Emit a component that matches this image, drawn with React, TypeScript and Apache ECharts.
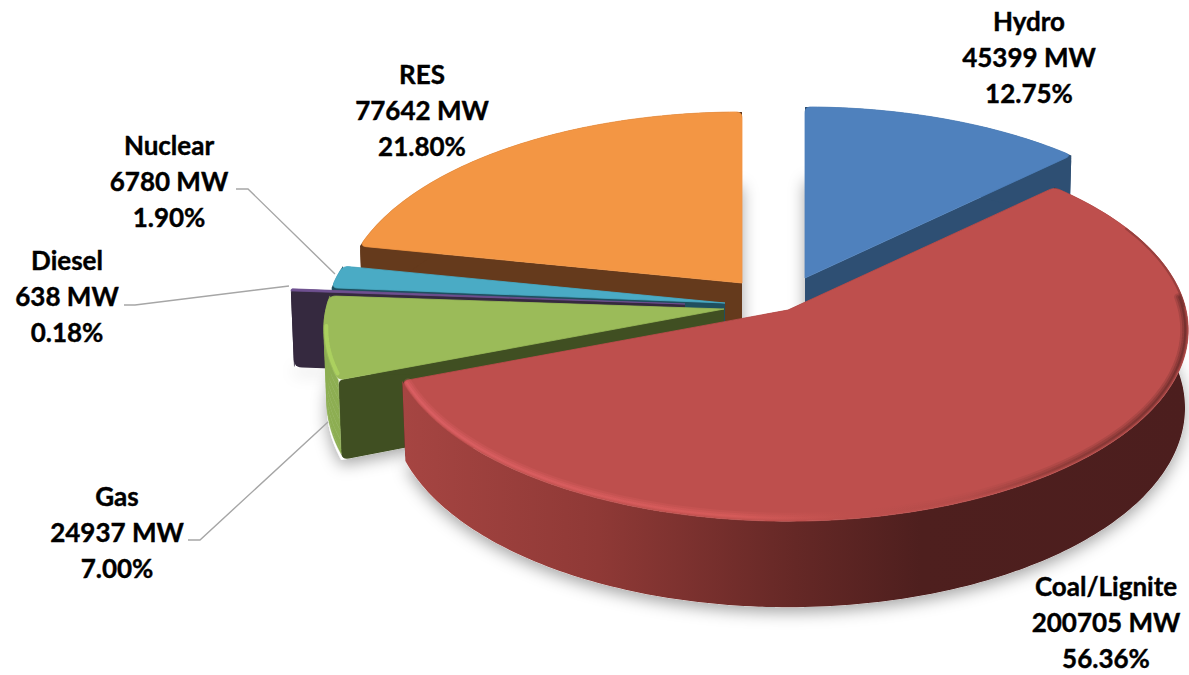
import React, { useEffect, useRef } from "react";
import * as echarts from "echarts";

// ---- data ----
const names = ["Hydro", "Coal/Lignite", "Gas", "Diesel", "Nuclear", "RES"];
const megawatts = [45399, 200705, 24937, 638, 6780, 77642];
const percents = ["12.75", "56.36", "7.00", "0.18", "1.90", "21.80"];

// ---- styles ----
const topColors = ["#4F81BD", "#BE4F4D", "#9BBB59", "#6F5090", "#4AABC5", "#F39644"];
const faceColors = ["#2E4F73", "#4C1E1E", "#404F22", "#35293F", "#1F4F5F", "#653A1C"];

// ---- layout ----
const apexes: number[][] = [[805, 278], [788, 310], [724, 309], [685, 304], [725, 303], [742, 283]];
const labelCentres: number[][] = [[1029, 57], [1106, 622], [117, 532], [67, 296], [169, 181], [422, 110]];
const leaders: number[][][] = [
  [[188, 540], [200, 540], [328, 422]],
  [[124, 305], [135, 305], [289, 286]],
  [[236, 189], [248, 189], [335, 274]],
];
const paintOrder = [0, 5, 4, 3, 2, 1];
const RX = 398, RY = 189, K = 0.105, H = 77, NARROW = 0.008;

const total = megawatts.reduce((a, b) => a + b, 0);
const startAngles: number[] = [];
megawatts.reduce((acc, v, i) => {
  startAngles[i] = acc;
  return acc + (v / total) * Math.PI * 2;
}, 0);
const endAngle = (i: number) => startAngles[i] + (megawatts[i] / total) * Math.PI * 2;

type Pt = number[];
function project(a: Pt, t: number, z = 0, inset = 0): Pt {
  const s = 1 / (1 + K * Math.cos(t));
  const n = 1 - NARROW * (z / H);
  return [
    a[0] + (RX - inset) * Math.sin(t) * s * n,
    a[1] - (RY - inset) * Math.cos(t) * s + z * s,
  ];
}
function rimPoints(a: Pt, t0: number, t1: number, z = 0, inset = 0): Pt[] {
  const steps = Math.max(6, Math.ceil(((t1 - t0) * 180) / Math.PI));
  const out: Pt[] = [];
  for (let i = 0; i <= steps; i++) out.push(project(a, t0 + ((t1 - t0) * i) / steps, z, inset));
  return out;
}
function roundCorner(pts: Pt[], i: number, r: number): Pt[] {
  const n = pts.length;
  const walk = (dir: number) => {
    let d = 0, j = i;
    for (let c = 0; c < n; c++) {
      const k = (j + dir + n) % n;
      const seg = Math.hypot(pts[k][0] - pts[j][0], pts[k][1] - pts[j][1]);
      if (d + seg >= r) {
        const f = (r - d) / (seg || 1);
        return { p: [pts[j][0] + (pts[k][0] - pts[j][0]) * f, pts[j][1] + (pts[k][1] - pts[j][1]) * f], k };
      }
      d += seg;
      j = k;
    }
    return { p: pts[i], k: (i + dir + n) % n };
  };
  const b = walk(-1), f = walk(1);
  const curve: Pt[] = [];
  for (let q = 0; q <= 6; q++) {
    const u = q / 6, v = 1 - u;
    curve.push([
      v * v * b.p[0] + 2 * u * v * pts[i][0] + u * u * f.p[0],
      v * v * b.p[1] + 2 * u * v * pts[i][1] + u * u * f.p[1],
    ]);
  }
  return [...pts.slice(0, b.k + 1), ...curve, ...(f.k > i ? pts.slice(f.k) : [])];
}
const grad = (stops: [number, string][]) =>
  new echarts.graphic.LinearGradient(0, 0, 1, 0, stops.map(([offset, color]) => ({ offset, color })));

const wallFills: any[] = [
  faceColors[0],
  grad([[0, "#A64542"], [0.25, "#8F3936"], [0.5, "#652826"], [0.66, "#4E1F1E"], [1, "#4C1E1E"]]),
  "#8DAE52",
  faceColors[3],
  faceColors[4],
  faceColors[5],
];
const coalRim = grad([[0, "#E4646A"], [0.42, "#DE5F5E"], [0.56, "#BF504D"], [0.72, "#B04A48"], [0.84, "#7E3431"], [1, "#5A2423"]]);

function polygon(points: Pt[], fill: any, extra: any = {}) {
  return { type: "polygon", silent: true, shape: { points }, style: { fill, ...extra } };
}
function polyline(points: Pt[], stroke: any, lineWidth: number, opacity = 1) {
  return { type: "polyline", silent: true, shape: { points }, style: { fill: "none", stroke, lineWidth, opacity, lineCap: "round" } };
}

function renderShadow(_p: any, api: any) {
  const i = api.value(0);
  const a = apexes[i];
  const t0 = startAngles[i], t1 = endAngle(i);
  const pts = [[a[0], a[1] + H], ...rimPoints(a, t0, t1, H)];
  return polygon(pts, "#ffffff", {
    shadowBlur: 16,
    shadowColor: "rgba(0,0,0,0.36)",
    shadowOffsetX: 0,
    shadowOffsetY: 5,
  });
}

function renderSlice(_p: any, api: any) {
  const i = api.value(0);
  const a = apexes[i];
  const t0 = startAngles[i], t1 = endAngle(i);
  const top = rimPoints(a, t0, t1);
  const rimLen = Math.hypot(top[0][0] - top[top.length - 1][0], top[0][1] - top[top.length - 1][1]);
  const r = Math.min(6, rimLen / 3);
  const children: any[] = [];
  const face = (t: number) => {
    let pts: Pt[] = [a, project(a, t), project(a, t, H), [a[0], a[1] + H]];
    pts = roundCorner(pts, 2, 8);
    pts = roundCorner(pts, 1, Math.max(r, 3));
    return polygon(pts, faceColors[i]);
  };
  children.push(face(t0), face(t1));
  if (i === 2) {
    for (let b = 0; b < 8; b++) {
      const lo = rimPoints(a, t0, t1, (H * b) / 8);
      const hi = rimPoints(a, t0, t1, (H * (b + 1)) / 8 - (b === 7 ? 6 : 0));
      children.push(polygon([...lo, ...hi.slice().reverse()], wallFills[i], { stroke: wallFills[i], lineWidth: 0.5 }));
    }
  } else {
    children.push(polygon([...top, ...rimPoints(a, t0, t1, H).reverse()], wallFills[i]));
  }
  let topPoly: Pt[] = [a, ...top];
  topPoly = roundCorner(topPoly, topPoly.length - 1, r);
  topPoly = roundCorner(topPoly, 1, r);
  children.push(polygon(topPoly, topColors[i], { stroke: topColors[i], lineWidth: 0.8 }));
  if (i === 1) {
    children.push(polyline(rimPoints(a, t0 + 0.3, t0 + 0.75, 0, 1), "#6E2E2C", 2, 0.45));
    const t = t0 + 0.7;
    const tEnd = t1 - 0.015;
    children.push(polyline(rimPoints(a, t, tEnd, 0, 4), coalRim, 8, 0.22));
    children.push(polyline(rimPoints(a, t, tEnd, 0, 3.5), coalRim, 5, 0.32));
    children.push(polyline(rimPoints(a, t, tEnd, 0, 3), coalRim, 2, 0.45));
  }
  if (i === 2) {
    children.push(polyline(rimPoints(a, t0 + 0.03, t1 - 0.16, 0, 2.5), "#ADD35F", 4, 0.9));
  }
  return { type: "group", children };
}

export default function App() {
  const ref = useRef<HTMLDivElement>(null);
  useEffect(() => {
    const chart = echarts.init(ref.current!, undefined, { renderer: "svg" });
    const data = paintOrder.map((i) => [i, megawatts[i]]);
    chart.setOption({
      animation: false,
      backgroundColor: "#ffffff",
      series: [
        { type: "custom", coordinateSystem: "none", z: 1, silent: true, renderItem: renderShadow, data },
        { type: "custom", coordinateSystem: "none", z: 2, silent: true, renderItem: renderSlice, data },
      ],
      graphic: [
        ...leaders.map((points) => ({
          type: "polyline",
          z: 5,
          silent: true,
          shape: { points },
          style: { fill: "none", stroke: "#A6A6A6", lineWidth: 1.4 },
        })),
        ...names.map((n, i) => ({
          type: "text",
          z: 6,
          silent: true,
          x: labelCentres[i][0],
          y: labelCentres[i][1],
          style: {
            text: `${n}\n${megawatts[i]} MW\n${percents[i]}%`,
            font: 'bold 26px Lato, "Open Sans", sans-serif',
            lineHeight: 36,
            fill: "#000000",
            stroke: "#000000",
            lineWidth: 0.4,
            align: "center",
            verticalAlign: "middle",
          },
        })),
      ],
    });
    return () => chart.dispose();
  }, []);
  return <div ref={ref} style={{ position: "absolute", left: 0, top: 0, width: 1189, height: 675 }} />;
}
